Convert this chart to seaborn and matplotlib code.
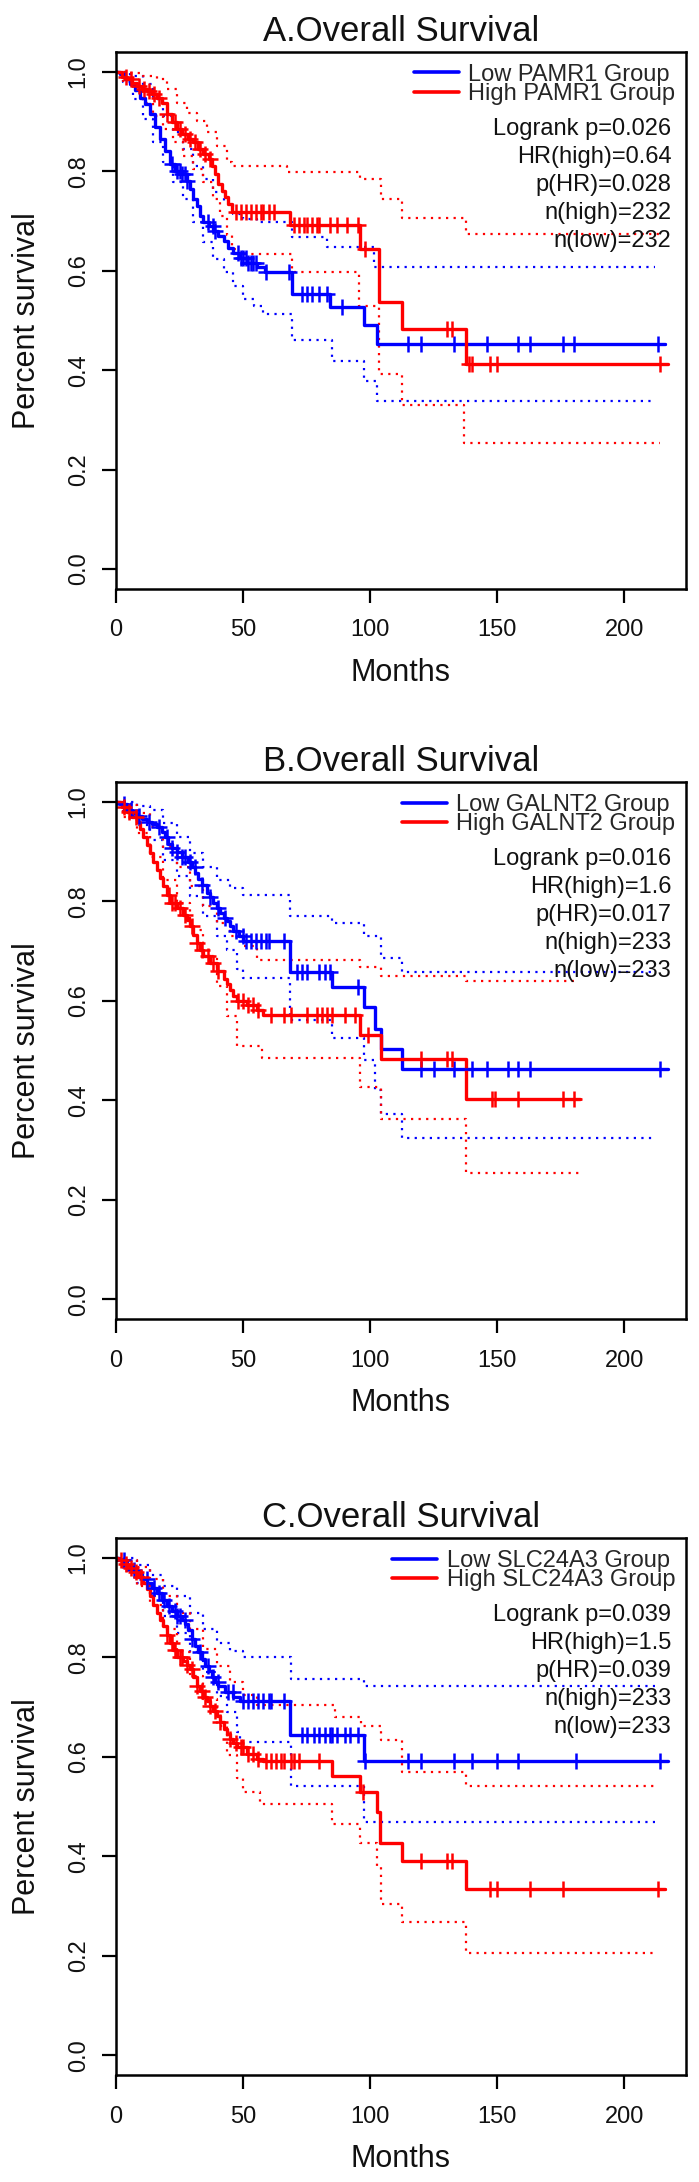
import numpy as np
import pandas as pd
import matplotlib
matplotlib.use("Agg")
import matplotlib.pyplot as plt
from matplotlib.lines import Line2D
import seaborn as sns

# =============================================================================
# A. PAMR1  (step curves: time in months, survival fraction)
# =============================================================================
a_low_t = [0, 1.6, 3.5, 5.5, 7.5, 9.4, 11.4, 13.4, 15.4, 17.3, 19.3, 21.3, 23.2, 25.9, 27.8,
           29.1, 30.4, 31.8, 33.1, 34.4, 36.4, 38.3, 40.3, 42.3, 44.2, 46.2, 48.2, 51.4, 55.4,
           58.7, 69.2, 84.3, 97.4, 102.6, 216]
a_low_s = [1.0, 0.995, 0.985, 0.975, 0.963, 0.948, 0.935, 0.915, 0.89, 0.865, 0.84, 0.815, 0.80,
           0.795, 0.78, 0.765, 0.745, 0.73, 0.71, 0.697, 0.69, 0.68, 0.67, 0.66, 0.645, 0.635,
           0.625, 0.615, 0.607, 0.597, 0.554, 0.527, 0.49, 0.453, 0.453]
a_high_t = [0, 2.2, 4.2, 6.2, 8.1, 10.1, 12.1, 14, 16, 18, 19.9, 21.9, 23.9, 25.9, 28.5, 30.4,
            32.4, 34.4, 36.4, 37.7, 39, 40.3, 41.6, 42.9, 44.2, 45.5, 68.5, 96.1, 103.3, 112.5,
            137.7, 217]
a_high_s = [1.0, 0.99, 0.985, 0.978, 0.972, 0.965, 0.962, 0.955, 0.948, 0.938, 0.915, 0.9, 0.885,
            0.875, 0.865, 0.858, 0.845, 0.835, 0.825, 0.81, 0.795, 0.775, 0.76, 0.748, 0.735,
            0.718, 0.691, 0.644, 0.537, 0.483, 0.413, 0.413]
a_low_up_t = [0, 5.5, 10.8, 14.7, 18.6, 22.6, 26.5, 30.4, 34.4, 38.3, 42.3, 46.2, 50.1, 55.4,
              69.2, 83, 101.3, 212]
a_low_up_s = [1.0, 0.992, 0.975, 0.945, 0.912, 0.878, 0.845, 0.811, 0.785, 0.758, 0.738, 0.714,
              0.704, 0.698, 0.667, 0.647, 0.607, 0.607]
a_low_lo_t = [0, 2.9, 6.8, 10.8, 14.7, 18.6, 22.6, 26.5, 30.4, 34.4, 38.3, 42.3, 46.2, 50.1,
              54.1, 58, 69.2, 85.1, 97.4, 102.6, 211]
a_low_lo_s = [1.0, 0.979, 0.945, 0.905, 0.858, 0.818, 0.778, 0.744, 0.697, 0.657, 0.624, 0.597,
              0.57, 0.544, 0.53, 0.513, 0.46, 0.418, 0.378, 0.338, 0.338]
a_high_up_t = [0, 5.5, 10.8, 16, 19.9, 23.9, 27.8, 31.8, 35.7, 39.6, 43.6, 45.5, 67.2, 96.1,
               104.4, 112.3, 137.7, 214]
a_high_up_s = [1.0, 0.997, 0.992, 0.985, 0.965, 0.938, 0.918, 0.902, 0.878, 0.851, 0.818, 0.811,
               0.798, 0.784, 0.744, 0.707, 0.673, 0.673]
a_high_lo_t = [0, 2.9, 6.8, 10.8, 14.7, 18.6, 22.6, 26.5, 30.4, 34.4, 38.3, 41, 43.6, 45.5,
               47.5, 69.2, 95.6, 103.5, 112.3, 137, 214]
a_high_lo_s = [1.0, 0.982, 0.962, 0.938, 0.912, 0.885, 0.858, 0.831, 0.805, 0.778, 0.744, 0.711,
               0.671, 0.644, 0.634, 0.597, 0.53, 0.392, 0.329, 0.253, 0.253]
a_low_cens = [22, 24, 25, 26, 27, 28, 36, 38, 39, 48, 49, 50, 51, 52, 53, 54, 55, 59, 68, 73, 75,
              77, 80, 83, 89, 115, 120, 133, 146, 158, 163, 176, 180, 213]
a_high_cens = [4, 6, 9, 11, 13, 15, 17, 20, 23, 25, 27, 29, 31, 33, 35, 37, 47, 49, 51, 53, 55,
               57, 58, 60, 62, 70, 72, 74, 75, 77, 79, 80, 84, 87, 91, 95, 98, 130, 132, 139,
               140, 147, 150, 214]
a_stats = ["Logrank p=0.026", "HR(high)=0.64", "p(HR)=0.028", "n(high)=232", "n(low)=232"]

# =============================================================================
# B. GALNT2
# =============================================================================
b_low_t = [0, 1.6, 4.2, 6.2, 8.1, 10.1, 12.1, 14, 16, 18, 19.3, 20.6, 21.9, 23.9, 25.9, 28.5,
           29.8, 31.1, 32.4, 33.7, 35.7, 37, 38.3, 39.6, 41, 42.3, 43.6, 44.9, 46.2, 48.2, 50.1,
           68.4, 85.1, 97.4, 101.8, 104.4, 112.3, 217]
b_low_s = [1.0, 0.995, 0.984, 0.977, 0.971, 0.965, 0.96, 0.955, 0.95, 0.94, 0.93, 0.915, 0.907,
           0.9, 0.89, 0.88, 0.87, 0.857, 0.845, 0.833, 0.817, 0.808, 0.797, 0.787, 0.776, 0.767,
           0.76, 0.75, 0.74, 0.73, 0.72, 0.657, 0.627, 0.587, 0.543, 0.503, 0.463, 0.463]
b_high_t = [0, 2.2, 4.2, 6.2, 8.1, 9.4, 10.8, 12.1, 13.4, 14.7, 16, 17.3, 18.6, 19.9, 21.3,
            23.9, 26.5, 27.8, 29.1, 30.4, 31.8, 33.1, 34.4, 37, 39.6, 42.3, 43.6, 44.9, 46.2,
            47.5, 51.4, 55.4, 58, 96, 104.4, 137.7, 182.5]
b_high_s = [1.0, 0.99, 0.98, 0.97, 0.96, 0.945, 0.93, 0.913, 0.897, 0.88, 0.863, 0.847, 0.83,
            0.813, 0.797, 0.786, 0.773, 0.762, 0.75, 0.733, 0.716, 0.703, 0.69, 0.676, 0.66,
            0.643, 0.633, 0.622, 0.61, 0.6, 0.592, 0.582, 0.572, 0.532, 0.483, 0.403, 0.403]
b_low_up_t = [0, 2.9, 8.1, 13.4, 18.6, 23.9, 29.1, 34.4, 39.6, 44.9, 50.1, 68.4, 85.1, 97.4,
              104.4, 112.3, 212]
b_low_up_s = [1.0, 0.999, 0.992, 0.983, 0.957, 0.93, 0.897, 0.87, 0.843, 0.827, 0.813, 0.77,
              0.757, 0.73, 0.687, 0.657, 0.657]
b_low_lo_t = [0, 2.9, 8.1, 13.4, 18.6, 23.9, 29.1, 34.4, 39.6, 43.6, 47.5, 50.1, 68.4, 85.1,
              97.4, 101.8, 104.4, 112.3, 212]
b_low_lo_s = [1.0, 0.977, 0.954, 0.924, 0.884, 0.85, 0.81, 0.77, 0.73, 0.703, 0.663, 0.646,
              0.562, 0.525, 0.48, 0.42, 0.373, 0.324, 0.324]
b_high_up_t = [0, 2.9, 8.1, 13.4, 18.6, 23.9, 29.1, 34.4, 39.6, 44.9, 50.1, 55.4, 96, 104.4,
               137.7, 182]
b_high_up_s = [1.0, 0.994, 0.977, 0.95, 0.91, 0.87, 0.83, 0.79, 0.756, 0.73, 0.71, 0.683, 0.667,
               0.65, 0.64, 0.64]
b_high_lo_t = [0, 2.9, 8.1, 13.4, 18.6, 23.9, 29.1, 34.4, 39.6, 43.6, 47.5, 57.3, 96, 104.4,
               137.7, 182]
b_high_lo_s = [1.0, 0.97, 0.937, 0.89, 0.843, 0.797, 0.743, 0.69, 0.629, 0.569, 0.509, 0.485,
               0.427, 0.363, 0.254, 0.254]
b_low_cens = [3, 6, 9, 13, 17, 20, 22, 24, 26, 27, 29, 31, 34, 37, 40, 43, 47, 50, 51, 53, 55,
              57, 59, 60, 66, 71, 73, 75, 80, 82, 84, 95, 120, 125, 133, 140, 146, 154, 158,
              163, 214]
b_high_cens = [3, 5, 8, 21, 22, 23, 25, 27, 30, 32, 34, 36, 38, 40, 48, 50, 52, 54, 56, 61, 66,
               69, 75, 79, 81, 83, 85, 90, 94, 99, 120, 130, 132, 148, 149, 158, 176, 180]
b_stats = ["Logrank p=0.016", "HR(high)=1.6", "p(HR)=0.017", "n(high)=233", "n(low)=233"]

# =============================================================================
# C. SLC24A3
# =============================================================================
c_low_t = [0, 1.6, 4.2, 6.2, 8.1, 10.1, 12.1, 14, 16, 18, 19.9, 21.9, 23.9, 25.9, 27.2, 28.5,
           29.8, 31.1, 32.4, 33.7, 35, 36.4, 37.7, 39, 40.3, 42.9, 46.2, 48.8, 68.5, 97.4, 217]
c_low_s = [1.0, 0.995, 0.984, 0.975, 0.967, 0.958, 0.95, 0.94, 0.93, 0.915, 0.904, 0.894, 0.884,
           0.875, 0.867, 0.855, 0.837, 0.823, 0.81, 0.797, 0.783, 0.772, 0.76, 0.75, 0.743, 0.73,
           0.72, 0.713, 0.643, 0.592, 0.592]
c_high_t = [0, 0.9, 2.9, 4.9, 6.8, 8.8, 10.8, 12.1, 13.4, 14.7, 16, 17.3, 18.6, 19.9, 21.3, 22.6,
            23.9, 26.5, 27.8, 29.1, 30.4, 31.8, 33.1, 34.4, 35.7, 37, 38.3, 39.6, 40.9, 42.3,
            43.6, 44.9, 46.2, 47.5, 51.4, 55.4, 58, 85, 96, 102.6, 104, 112.3, 137.7, 216]
c_high_s = [1.0, 0.995, 0.987, 0.979, 0.971, 0.962, 0.95, 0.937, 0.924, 0.906, 0.89, 0.876,
            0.863, 0.846, 0.83, 0.815, 0.8, 0.793, 0.785, 0.776, 0.76, 0.743, 0.732, 0.72, 0.712,
            0.703, 0.693, 0.683, 0.67, 0.656, 0.646, 0.636, 0.627, 0.619, 0.606, 0.596, 0.592,
            0.562, 0.529, 0.49, 0.426, 0.391, 0.334, 0.334]
c_low_up_t = [0, 2.9, 8.1, 13.4, 18.6, 23.9, 29.1, 34.4, 39.6, 44.9, 50.1, 69, 97.4, 212]
c_low_up_s = [1.0, 0.999, 0.985, 0.965, 0.944, 0.924, 0.89, 0.857, 0.83, 0.813, 0.8, 0.757,
              0.743, 0.743]
c_low_lo_t = [0, 2.9, 8.1, 13.4, 18.6, 23.9, 29.1, 34.4, 39.6, 43.6, 47.5, 48.8, 69, 97.4, 212]
c_low_lo_s = [1.0, 0.977, 0.95, 0.924, 0.884, 0.85, 0.81, 0.77, 0.723, 0.69, 0.65, 0.63, 0.542,
              0.469, 0.469]
c_high_up_t = [0, 2.9, 8.1, 13.4, 18.6, 23.9, 29.1, 34.4, 39.6, 44.9, 50.1, 55.4, 86, 96.5,
               104.4, 112.3, 137.7, 212]
c_high_up_s = [1.0, 0.996, 0.981, 0.957, 0.924, 0.89, 0.857, 0.817, 0.783, 0.75, 0.724, 0.704,
               0.68, 0.663, 0.633, 0.569, 0.542, 0.542]
c_high_lo_t = [0, 2.9, 8.1, 13.4, 18.6, 23.9, 29.1, 34.4, 39.6, 43.6, 47.5, 50.1, 56.7, 85, 96,
               102.6, 104.4, 112.3, 137.7, 212]
c_high_lo_s = [1.0, 0.974, 0.944, 0.905, 0.857, 0.81, 0.763, 0.716, 0.663, 0.603, 0.557, 0.53,
               0.505, 0.464, 0.427, 0.379, 0.305, 0.268, 0.206, 0.206]
c_low_cens = [3, 7, 12, 15, 17, 19, 21, 23, 24, 25, 27, 30, 33, 36, 38, 40, 44, 46, 50, 52, 54,
              56, 58, 60, 61, 66, 73, 75, 78, 80, 82, 84, 85, 87, 90, 92, 95, 98, 115, 120, 133,
              140, 150, 158, 181, 214]
c_high_cens = [2, 4, 6, 8, 10, 20, 22, 23, 25, 26, 28, 30, 32, 34, 35, 37, 39, 41, 45, 47, 49,
               50, 52, 54, 56, 59, 61, 63, 65, 66, 69, 70, 72, 80, 97, 120, 130, 132, 147, 150,
               163, 176, 213]
c_stats = ["Logrank p=0.039", "HR(high)=1.5", "p(HR)=0.039", "n(high)=233", "n(low)=233"]

titles = ["A.Overall Survival", "B.Overall Survival", "C.Overall Survival"]
genes = ["PAMR1", "GALNT2", "SLC24A3"]
x_ticks = [0, 50, 100, 150, 200]
y_ticks = [0.0, 0.2, 0.4, 0.6, 0.8, 1.0]

# =============================================================================
# plotting
# =============================================================================
sns.set_theme(style="ticks")
plt.rcParams["font.family"] = ["Liberation Sans", "DejaVu Sans"]

BLUE = "#0000FF"
RED = "#FF0000"
DOT = (0, (1.0, 2.4))


def step_at(t, s, x):
    idx = np.searchsorted(np.asarray(t), np.asarray(x), side="right") - 1
    return np.asarray(s)[idx]


def draw_step(ax, t, s, color, **kw):
    df = pd.DataFrame({"Months": t, "surv": s})
    sns.lineplot(data=df, x="Months", y="surv", ax=ax, color=color, drawstyle="steps-post",
                 estimator=None, sort=False, errorbar=None, **kw)


def km_panel(ax, title, gene, stats, low, high, low_ci, high_ci, low_cens, high_cens):
    for t, s in low_ci:
        draw_step(ax, t, s, BLUE, lw=1.6, linestyle=DOT)
    for t, s in high_ci:
        draw_step(ax, t, s, RED, lw=1.6, linestyle=DOT)
    draw_step(ax, low[0], low[1], BLUE, lw=2.4)
    draw_step(ax, high[0], high[1], RED, lw=2.4)
    ax.plot(low_cens, step_at(low[0], low[1], low_cens), ls="none", marker="+",
            ms=11, mew=1.8, color=BLUE)
    ax.plot(high_cens, step_at(high[0], high[1], high_cens), ls="none", marker="+",
            ms=11, mew=1.8, color=RED)

    ax.set_xlim(0, 224)
    ax.set_ylim(-0.04, 1.04)
    ax.set_xticks(x_ticks)
    ax.set_yticks(y_ticks)
    ax.set_yticklabels([f"{v:.1f}" for v in y_ticks], rotation=90, va="center")
    ax.tick_params(axis="both", length=10, width=1.6, color="black", labelsize=17,
                   labelcolor="#111111")
    ax.tick_params(axis="x", pad=12)
    ax.tick_params(axis="y", pad=9)
    for sp in ax.spines.values():
        sp.set_visible(True)
        sp.set_linewidth(1.8)
        sp.set_color("black")

    ax.set_title(title, fontsize=25, pad=8, color="#111111")
    ax.set_xlabel("Months", fontsize=22, color="#111111", va="center")
    ax.xaxis.set_label_coords(0.5, -0.156)
    ax.set_ylabel("Percent survival", fontsize=22, color="#111111", va="center")
    ax.yaxis.set_label_coords(-0.156, 0.5)

    handles = [Line2D([], [], color=BLUE, lw=2.6), Line2D([], [], color=RED, lw=2.6)]
    ax.legend(handles, [f"Low {gene} Group", f"High {gene} Group"], loc="upper right",
              bbox_to_anchor=(0.982, 0.978), frameon=False, fontsize=17, borderpad=0,
              borderaxespad=0, labelspacing=-0.12, handlelength=1.9, handletextpad=0.4)
    for i, txt in enumerate(stats):
        ax.text(0.975, 0.857 - i * 0.0523, txt, transform=ax.transAxes, ha="right",
                va="center", fontsize=17, color="#111111")


fig = plt.figure(figsize=(6.99, 21.82), dpi=100)
ax_a = fig.add_axes([0.166, 0.7301, 0.8147, 0.2461])
ax_b = fig.add_axes([0.166, 0.3955, 0.8147, 0.2461])
ax_c = fig.add_axes([0.166, 0.0490, 0.8147, 0.2461])

km_panel(ax_a, titles[0], genes[0], a_stats, (a_low_t, a_low_s), (a_high_t, a_high_s),
         [(a_low_up_t, a_low_up_s), (a_low_lo_t, a_low_lo_s)],
         [(a_high_up_t, a_high_up_s), (a_high_lo_t, a_high_lo_s)], a_low_cens, a_high_cens)
km_panel(ax_b, titles[1], genes[1], b_stats, (b_low_t, b_low_s), (b_high_t, b_high_s),
         [(b_low_up_t, b_low_up_s), (b_low_lo_t, b_low_lo_s)],
         [(b_high_up_t, b_high_up_s), (b_high_lo_t, b_high_lo_s)], b_low_cens, b_high_cens)
km_panel(ax_c, titles[2], genes[2], c_stats, (c_low_t, c_low_s), (c_high_t, c_high_s),
         [(c_low_up_t, c_low_up_s), (c_low_lo_t, c_low_lo_s)],
         [(c_high_up_t, c_high_up_s), (c_high_lo_t, c_high_lo_s)], c_low_cens, c_high_cens)

fig.savefig("out.png", dpi=100, facecolor="white")
